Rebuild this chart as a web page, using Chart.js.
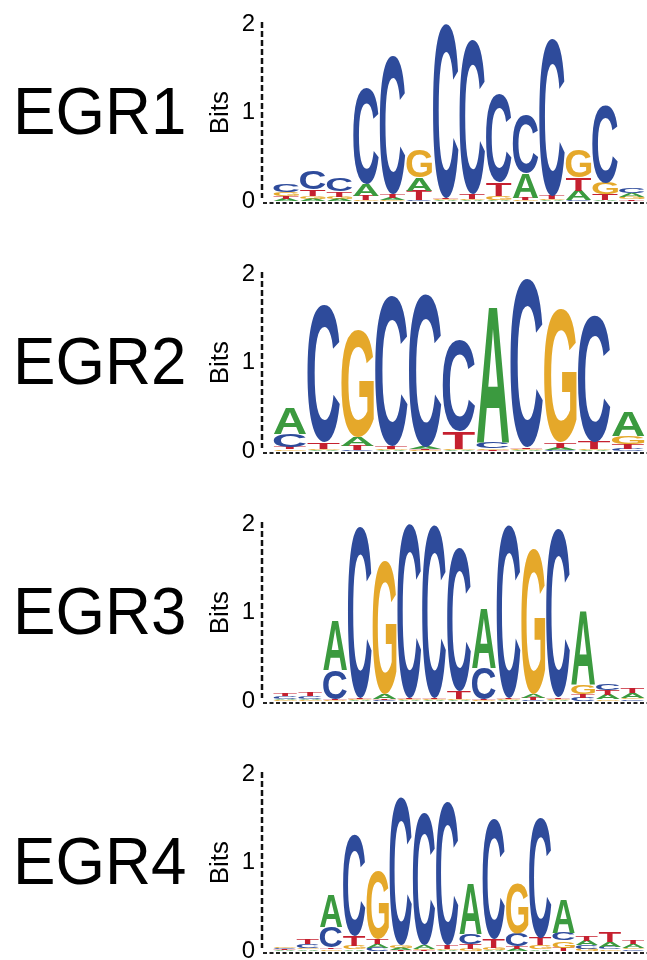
<!DOCTYPE html>
<html>
<head>
<meta charset="utf-8">
<script src="https://cdn.jsdelivr.net/npm/chart.js@4.4.1/dist/chart.umd.min.js"></script>
<style>
  html, body { margin: 0; padding: 0; background: #fff; }
  .panel { position: relative; width: 647px; height: 250px; }
  canvas { display: block; }
</style>
</head>
<body>
<div class="panel"><canvas id="egr1" width="647" height="250"></canvas></div>
<div class="panel"><canvas id="egr2" width="647" height="250"></canvas></div>
<div class="panel"><canvas id="egr3" width="647" height="250"></canvas></div>
<div class="panel"><canvas id="egr4" width="647" height="250"></canvas></div>
<script>
// bits per base, one array per letter, one value per position
const egr1A = [0.03, 0.03, 0.025, 0.125, 0.03, 0.15, 0.01, 0.01, 0.01, 0.28, 0.01, 0.11, 0.01, 0.04];
const egr1C = [0.09, 0.20, 0.14, 1.08, 1.56, 0.01, 1.96, 1.74, 0.99, 0.66, 1.77, 0.01, 0.87, 0.06];
const egr1G = [0.04, 0.03, 0.025, 0.01, 0.01, 0.31, 0.01, 0.02, 0.05, 0.01, 0.01, 0.31, 0.13, 0.03];
const egr1T = [0.03, 0.07, 0.06, 0.05, 0.04, 0.11, 0.01, 0.05, 0.15, 0.03, 0.04, 0.15, 0.07, 0.02];

const egr2A = [0.29, 0.01, 0.10, 0.01, 0.03, 0.01, 1.54, 0.01, 0.03, 0.01, 0.28];
const egr2C = [0.15, 1.54, 0.01, 1.70, 1.73, 1.03, 0.07, 1.90, 0.01, 1.43, 0.03];
const egr2G = [0.02, 0.02, 1.20, 0.02, 0.01, 0.02, 0.02, 0.01, 1.50, 0.02, 0.09];
const egr2T = [0.03, 0.07, 0.05, 0.03, 0.01, 0.19, 0.01, 0.02, 0.06, 0.08, 0.05];

const egr3A = [0.02, 0.02, 0.55, 0.01, 0.05, 0.01, 0.01, 0.01, 0.67, 0.01, 0.04, 0.01, 0.83, 0.05, 0.05];
const egr3C = [0.03, 0.03, 0.33, 1.94, 0.01, 1.97, 1.95, 1.62, 0.36, 1.95, 0.01, 1.90, 0.04, 0.07, 0.02];
const egr3G = [0.01, 0.01, 0.01, 0.01, 1.50, 0.01, 0.01, 0.01, 0.01, 0.01, 1.63, 0.01, 0.10, 0.02, 0.02];
const egr3T = [0.03, 0.04, 0.01, 0.01, 0.02, 0.01, 0.01, 0.09, 0.01, 0.01, 0.03, 0.02, 0.04, 0.06, 0.055];

const egr4A = [0.01, 0.02, 0.37, 0.02, 0.045, 0.03, 0.04, 0.01, 0.57, 0.01, 0.03, 0.02, 0.38, 0.05, 0.05, 0.04];
const egr4C = [0.02, 0.04, 0.23, 1.15, 0.04, 1.67, 1.49, 1.62, 0.11, 1.36, 0.14, 1.36, 0.085, 0.04, 0.03, 0.02];
const egr4G = [0.02, 0.02, 0.02, 0.04, 0.77, 0.03, 0.02, 0.02, 0.03, 0.03, 0.57, 0.05, 0.08, 0.03, 0.02, 0.02];
const egr4T = [0.01, 0.05, 0.02, 0.11, 0.055, 0.01, 0.01, 0.04, 0.05, 0.10, 0.03, 0.08, 0.04, 0.055, 0.12, 0.045];

const yTicks = [0, 1, 2];

const letterColors = { A: '#3b9a3f', C: '#2e4b9b', G: '#e5a82a', T: '#c5202f' };
const FONT = '"Liberation Sans", Arial, Helvetica, sans-serif';

// stretch one glyph into a box
function drawGlyph(ctx, ch, x0, yTop, w, h, color) {
  if (h < 0.4) return;
  ctx.save();
  ctx.font = 'bold 100px ' + FONT;
  ctx.textBaseline = 'alphabetic';
  ctx.textAlign = 'left';
  const m = ctx.measureText(ch);
  const gw = m.actualBoundingBoxLeft + m.actualBoundingBoxRight;
  const gh = m.actualBoundingBoxAscent + m.actualBoundingBoxDescent;
  ctx.translate(x0, yTop);
  ctx.scale(w / gw, h / gh);
  ctx.fillStyle = color;
  ctx.fillText(ch, m.actualBoundingBoxLeft, m.actualBoundingBoxAscent);
  ctx.restore();
}

const logoPlugin = {
  id: 'logo',
  afterDatasetsDraw(chart) {
    const { ctx, scales: { x, y } } = chart;
    const n = chart.data.datasets[0].data.length;
    const colW = x.getPixelForValue(2) - x.getPixelForValue(1);
    for (let i = 0; i < n; i++) {
      const stack = chart.data.datasets
        .map(ds => ({ letter: ds.label, h: ds.data[i].y }))
        .sort((a, b) => a.h - b.h);
      const cx = x.getPixelForValue(i + 1);
      let base = 0;
      stack.forEach(s => {
        const yb = y.getPixelForValue(base);
        const yt = y.getPixelForValue(base + s.h);
        drawGlyph(ctx, s.letter, cx - colW * 0.48, yt, colW * 0.96, yb - yt, letterColors[s.letter]);
        base += s.h;
      });
    }
  },
  afterDraw(chart, args, opts) {
    const { ctx, chartArea, scales: { y } } = chart;
    // dashed axes
    ctx.save();
    ctx.strokeStyle = '#111';
    ctx.lineWidth = 2.5;
    ctx.setLineDash([6, 3]);
    ctx.beginPath();
    ctx.moveTo(chartArea.left, y.getPixelForValue(2) - 2);
    ctx.lineTo(chartArea.left, chartArea.bottom - 5);
    ctx.stroke();
    ctx.strokeStyle = '#222';
    ctx.lineWidth = 2;
    ctx.setLineDash([4, 2.5]);
    ctx.beginPath();
    ctx.moveTo(chartArea.left + 1, chartArea.bottom);
    ctx.lineTo(chartArea.right, chartArea.bottom);
    ctx.stroke();
    ctx.restore();
    // factor name
    ctx.save();
    ctx.fillStyle = '#000';
    ctx.font = '67px ' + FONT;
    ctx.textBaseline = 'alphabetic';
    ctx.translate(13, 134);
    ctx.scale(0.95, 1);
    ctx.fillText(opts.name, 0, 0);
    ctx.restore();
    // axis title
    ctx.save();
    ctx.fillStyle = '#000';
    ctx.font = '26px ' + FONT;
    ctx.textAlign = 'center';
    ctx.textBaseline = 'middle';
    ctx.translate(221, y.getPixelForValue(1));
    ctx.rotate(-Math.PI / 2);
    ctx.fillText('Bits', 0, 0);
    ctx.restore();
  }
};

function makeLogo(id, name, A, C, G, T) {
  const n = A.length;
  const colW = 372 / n;
  const toXY = arr => arr.map((v, i) => ({ x: i + 1, y: v }));
  new Chart(document.getElementById(id), {
    type: 'scatter',
    data: {
      datasets: [
        { label: 'A', data: toXY(A), pointRadius: 0 },
        { label: 'C', data: toXY(C), pointRadius: 0 },
        { label: 'G', data: toXY(G), pointRadius: 0 },
        { label: 'T', data: toXY(T), pointRadius: 0 }
      ]
    },
    options: {
      responsive: false,
      animation: false,
      devicePixelRatio: 1,
      layout: { padding: { top: 24, bottom: 47, left: 0, right: 0 } },
      plugins: {
        legend: { display: false },
        tooltip: { enabled: false },
        logo: { name: name }
      },
      scales: {
        x: {
          type: 'linear',
          min: 0.5 - 11 / colW,
          max: n + 0.5 + 2 / colW,
          ticks: { display: false },
          grid: { display: false, drawTicks: false },
          border: { display: false },
          afterFit: s => { s.height = 0; }
        },
        y: {
          min: -0.02,
          max: 2,
          afterBuildTicks: s => { s.ticks = yTicks.map(v => ({ value: v })); },
          ticks: {
            color: '#000',
            padding: 7,
            font: { family: FONT, size: 24 },
            callback: v => String(v)
          },
          grid: { display: false, drawTicks: false },
          border: { display: false },
          afterFit: s => { s.width = 262; }
        }
      }
    },
    plugins: [logoPlugin]
  });
}

makeLogo('egr1', 'EGR1', egr1A, egr1C, egr1G, egr1T);
makeLogo('egr2', 'EGR2', egr2A, egr2C, egr2G, egr2T);
makeLogo('egr3', 'EGR3', egr3A, egr3C, egr3G, egr3T);
makeLogo('egr4', 'EGR4', egr4A, egr4C, egr4G, egr4T);
</script>
</body>
</html>
